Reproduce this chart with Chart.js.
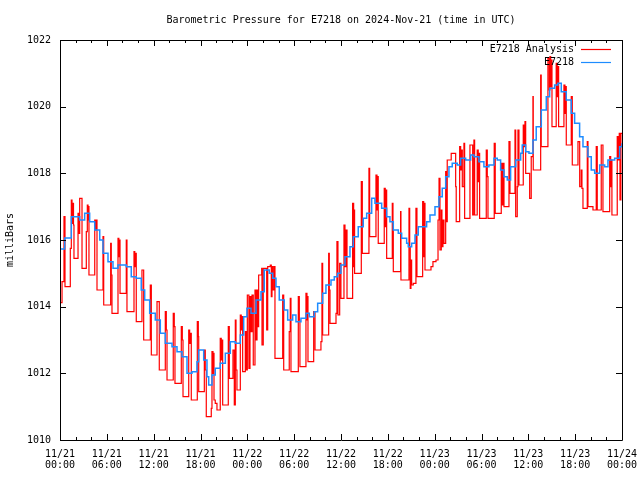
<!DOCTYPE html>
<html>
<head>
<meta charset="utf-8">
<title>Barometric Pressure for E7218</title>
<script src="https://cdn.jsdelivr.net/npm/chart.js@4/dist/chart.umd.min.js"></script>
<style>
  html, body { margin: 0; padding: 0; background: #fff; }
  #wrap { width: 640px; height: 480px; }
</style>
</head>
<body>
<div id="wrap"><canvas id="pressureChart" width="640" height="480"></canvas></div>
<script>
// Hours since 2024-11-21 00:00 UTC, paired with pressure in milliBars
const analysisPoints = [
    [0, 1014.12], [0.26, 1014.75], [0.51, 1016.7], [0.64, 1014.6], [1.32, 1015.75], [1.45, 1017.2],
    [1.54, 1016.5], [1.63, 1017.1], [1.73, 1016.45], [1.79, 1015.45], [2.31, 1016.8], [2.43, 1016.2],
    [2.52, 1017.25], [2.82, 1015.15], [3.37, 1016.25], [3.50, 1017.05], [3.59, 1016.6], [3.68, 1017.0],
    [3.71, 1014.95], [4.45, 1016.6], [4.58, 1016.3], [4.65, 1016.6], [4.74, 1014.5], [5.51, 1016.1],
    [5.60, 1014.05], [6.49, 1015.9], [6.57, 1014.95], [6.66, 1013.8], [7.43, 1016.05], [7.54, 1015.5],
    [7.62, 1016.0], [7.69, 1014.4], [8.49, 1016.0], [8.58, 1013.85], [9.48, 1015.65], [9.58, 1015.2],
    [9.67, 1015.6], [9.77, 1013.55], [10.50, 1015.1], [10.72, 1013.0], [11.57, 1014.65], [11.70, 1012.55],
    [12.43, 1014.15], [12.72, 1012.1], [13.49, 1013.85], [13.62, 1013.3], [13.71, 1011.8], [14.51, 1013.8],
    [14.64, 1013.4], [14.73, 1011.7], [15.54, 1013.4], [15.67, 1013.0], [15.76, 1011.3], [16.49, 1013.3],
    [16.61, 1012.9], [16.74, 1013.2], [16.82, 1011.2], [17.59, 1013.55], [17.72, 1013.1], [17.77, 1011.45],
    [18.49, 1012.7], [18.61, 1012.1], [18.74, 1010.7], [19.38, 1010.95], [19.47, 1012.65], [19.60, 1012.0],
    [19.69, 1012.6], [19.73, 1011.2], [19.89, 1011.1], [20.11, 1010.9], [20.53, 1013.05], [20.66, 1012.4],
    [20.75, 1013.0], [20.84, 1011.05], [21.56, 1013.4], [21.69, 1011.85], [22.16, 1012.7], [22.33, 1011.05],
    [22.46, 1013.6], [22.55, 1012.1], [22.67, 1011.5], [23.10, 1013.75], [23.22, 1013.3], [23.31, 1013.7],
    [23.40, 1012.05], [23.74, 1013.25], [23.86, 1012.1], [24.0, 1014.35], [24.2, 1012.15], [24.34, 1014.3],
    [24.47, 1013.25], [24.6, 1014.35], [24.76, 1012.25], [24.98, 1014.5], [25.11, 1013.0], [25.24, 1014.5],
    [25.33, 1013.4], [25.45, 1014.95], [25.84, 1015.15], [25.88, 1012.85], [26.04, 1015.15], [26.48, 1013.3],
    [26.61, 1015.2], [26.94, 1015.25], [27.07, 1014.3], [27.16, 1015.2], [27.29, 1014.5], [27.45, 1015.2],
    [27.54, 1012.45], [28.53, 1014.35], [28.66, 1012.1], [29.37, 1013.25], [29.50, 1014.25], [29.59, 1012.05],
    [30.53, 1014.3], [30.66, 1013.6], [30.74, 1012.2], [31.51, 1014.4], [31.64, 1013.6], [31.73, 1014.3],
    [31.77, 1012.35], [32.50, 1013.85], [32.67, 1012.7], [33.43, 1012.95], [33.56, 1015.3], [33.65, 1013.15],
    [34.42, 1015.6], [34.50, 1014.5], [34.59, 1013.5], [35.36, 1013.8], [35.48, 1015.95], [35.61, 1013.75],
    [35.83, 1015.3], [35.99, 1014.25], [36.38, 1016.45], [36.51, 1015.2], [36.64, 1016.3], [36.77, 1014.25],
    [37.49, 1017.1], [37.62, 1015.2], [37.70, 1016.9], [37.74, 1015.0], [38.60, 1017.75], [38.73, 1015.6],
    [39.58, 1018.15], [39.67, 1016.1], [40.48, 1017.95], [40.61, 1016.9], [40.70, 1017.9], [40.77, 1015.9],
    [41.54, 1017.55], [41.67, 1016.4], [41.76, 1017.5], [41.85, 1015.45], [42.57, 1017.1], [42.66, 1016.3],
    [42.70, 1015.05], [43.64, 1016.85], [43.68, 1014.8], [44.71, 1016.95], [44.80, 1015.8], [44.87, 1014.55],
    [44.96, 1015.4], [45.05, 1014.65], [45.26, 1014.7], [45.60, 1016.95], [45.73, 1014.9], [46.46, 1017.15],
    [46.59, 1015.5], [46.67, 1017.1], [46.76, 1015.1], [47.53, 1015.2], [47.78, 1015.35], [48.17, 1015.4],
    [48.43, 1016.6], [48.56, 1017.85], [48.68, 1015.7], [48.85, 1016.9], [48.93, 1015.8], [49.06, 1016.6],
    [49.19, 1015.9], [49.41, 1018.05], [49.49, 1016.55], [49.61, 1018.4], [50.12, 1018.6], [50.69, 1017.6],
    [50.76, 1016.55], [51.20, 1018.8], [51.33, 1018.1], [51.46, 1018.7], [51.54, 1017.6], [51.75, 1018.9],
    [51.84, 1016.65], [52.52, 1018.85], [52.87, 1016.75], [53.03, 1019.0], [53.12, 1016.75], [53.45, 1018.7],
    [53.58, 1017.75], [53.67, 1018.6], [53.76, 1016.65], [54.61, 1018.7], [54.74, 1017.9], [54.83, 1016.65],
    [55.63, 1018.9], [55.76, 1016.8], [56.53, 1018.3], [56.66, 1017.05], [56.79, 1018.3], [56.88, 1017.0],
    [57.52, 1018.95], [57.65, 1017.4], [58.29, 1019.3], [58.38, 1016.7], [58.58, 1017.6], [58.67, 1019.3],
    [58.80, 1017.65], [59.35, 1019.45], [59.48, 1018.8], [59.57, 1019.55], [59.66, 1018.0], [60.17, 1017.25],
    [60.37, 1018.5], [60.59, 1020.3], [60.63, 1018.1], [61.58, 1020.95], [61.65, 1018.8], [62.51, 1021.45],
    [62.68, 1020.5], [62.77, 1021.5], [62.86, 1020.6], [62.94, 1021.4], [63.03, 1019.4], [63.57, 1021.3],
    [63.70, 1020.3], [63.79, 1021.2], [63.88, 1019.4], [64.56, 1020.65], [64.69, 1019.8], [64.78, 1020.6],
    [64.86, 1018.85], [65.50, 1020.3], [65.63, 1018.25], [66.36, 1018.95], [66.58, 1017.6], [66.78, 1018.1],
    [66.87, 1017.55], [67.00, 1016.95], [67.55, 1018.95], [67.64, 1017.0], [68.28, 1016.9], [68.70, 1018.8],
    [68.83, 1016.9], [69.34, 1018.85], [69.56, 1016.85], [70.42, 1018.5], [70.55, 1017.6], [70.63, 1018.4],
    [70.71, 1016.75], [71.39, 1019.1], [71.52, 1018.4], [71.65, 1019.2], [71.74, 1017.2], [71.86, 1019.2],
    [72.0, 1019.2]
];

const stationPoints = [
    [0, 1015.73], [0.60, 1016.06], [1.45, 1016.7], [2.52, 1016.6], [3.16, 1016.8], [3.80, 1016.55],
    [4.45, 1016.3], [5.09, 1016.0], [5.51, 1015.6], [6.15, 1015.35], [6.79, 1015.15], [7.43, 1015.25],
    [8.49, 1015.2], [9.13, 1014.9], [9.77, 1014.85], [10.41, 1014.5], [10.85, 1014.2], [11.49, 1013.8],
    [12.21, 1013.6], [12.85, 1013.2], [13.49, 1012.9], [14.35, 1012.8], [14.99, 1012.65], [15.63, 1012.5],
    [16.27, 1012.0], [16.91, 1012.05], [17.55, 1012.35], [17.77, 1012.7], [18.41, 1012.4], [18.83, 1011.9],
    [19.05, 1011.65], [19.47, 1011.95], [19.89, 1012.15], [20.53, 1012.3], [21.18, 1012.6], [21.82, 1012.95],
    [22.46, 1012.9], [23.10, 1013.15], [23.53, 1013.7], [23.95, 1013.95], [24.47, 1013.8], [25.11, 1014.2],
    [25.75, 1014.45], [26.17, 1015.1], [26.81, 1015.0], [27.25, 1014.85], [27.67, 1014.6], [28.09, 1014.2],
    [28.73, 1013.9], [29.17, 1013.6], [29.81, 1013.75], [30.23, 1013.55], [30.87, 1013.65], [31.51, 1013.8],
    [31.94, 1013.7], [32.58, 1013.85], [33.01, 1014.1], [33.65, 1014.4], [34.07, 1014.65], [34.72, 1014.8],
    [35.14, 1014.9], [35.57, 1015.0], [35.99, 1015.25], [36.51, 1015.5], [37.15, 1015.8], [37.57, 1016.1],
    [38.21, 1016.4], [38.85, 1016.65], [39.29, 1016.8], [39.93, 1017.25], [40.35, 1017.1], [41.21, 1016.95],
    [41.85, 1016.7], [42.27, 1016.55], [42.70, 1016.3], [43.34, 1016.2], [43.77, 1016.05], [44.41, 1015.9],
    [44.62, 1015.8], [45.05, 1015.9], [45.48, 1016.15], [45.90, 1016.4], [46.97, 1016.55], [47.40, 1016.75],
    [48.04, 1017.0], [48.55, 1017.3], [48.97, 1017.55], [49.41, 1017.9], [49.83, 1018.2], [50.25, 1018.3],
    [50.89, 1018.25], [51.33, 1018.45], [51.97, 1018.4], [52.61, 1018.55], [53.03, 1018.5], [53.67, 1018.35],
    [54.31, 1018.2], [54.95, 1018.25], [55.60, 1018.45], [56.02, 1018.4], [56.45, 1018.1], [56.88, 1017.9],
    [57.30, 1017.8], [57.73, 1018.2], [58.38, 1018.4], [59.02, 1018.6], [59.22, 1018.85], [59.66, 1018.65],
    [60.08, 1018.6], [60.59, 1019.0], [61.01, 1019.4], [61.66, 1019.9], [62.30, 1020.3], [62.73, 1020.55],
    [63.37, 1020.65], [63.79, 1020.7], [64.22, 1020.45], [64.86, 1020.2], [65.50, 1019.8], [65.93, 1019.5],
    [66.57, 1019.1], [67.00, 1018.8], [67.64, 1018.5], [68.06, 1018.1], [68.50, 1018.0], [69.14, 1018.25],
    [69.78, 1018.2], [70.20, 1018.4], [71.06, 1018.45], [71.70, 1018.8], [72.0, 1018.9]
];

// one label per 6 hour tick
const xTickLabels = [
    ['11/21', '00:00'], ['11/21', '06:00'], ['11/21', '12:00'], ['11/21', '18:00'],
    ['11/22', '00:00'], ['11/22', '06:00'], ['11/22', '12:00'], ['11/22', '18:00'],
    ['11/23', '00:00'], ['11/23', '06:00'], ['11/23', '12:00'], ['11/23', '18:00'],
    ['11/24', '00:00']
];
const yTickValues = [1010, 1012, 1014, 1016, 1018, 1020, 1022];
const seriesNames = ['E7218 Analysis', 'E7218'];
const seriesColors = ['#ff0000', '#1e8cff'];

const MONO = "'DejaVu Sans Mono', 'Liberation Mono', monospace";

// gnuplot style frame: box, inward ticks, title and legend
const gnuFrame = {
    id: 'gnuFrame',
    afterDraw(chart) {
        const ctx = chart.ctx;
        const area = chart.chartArea;
        const xs = chart.scales.x;
        const ys = chart.scales.y;
        ctx.save();
        ctx.strokeStyle = '#000';
        ctx.lineWidth = 1;
        ctx.beginPath();
        ctx.rect(Math.round(area.left) + 0.5, Math.round(area.top) + 0.5,
            Math.round(area.right - area.left), Math.round(area.bottom - area.top));
        ctx.stroke();

        ctx.beginPath();
        for (let h = 0; h <= 72; h += 2) {
            const px = Math.round(xs.getPixelForValue(h)) + 0.5;
            const len = h % 6 === 0 ? 6 : 3;
            ctx.moveTo(px, area.bottom);
            ctx.lineTo(px, area.bottom - len);
            ctx.moveTo(px, area.top);
            ctx.lineTo(px, area.top + len);
        }
        yTickValues.forEach(v => {
            const py = Math.round(ys.getPixelForValue(v)) + 0.5;
            ctx.moveTo(area.left, py);
            ctx.lineTo(area.left + 6, py);
            ctx.moveTo(area.right, py);
            ctx.lineTo(area.right - 6, py);
        });
        ctx.stroke();

        ctx.fillStyle = '#000';
        ctx.font = '10px ' + MONO;
        ctx.textBaseline = 'middle';
        ctx.textAlign = 'center';
        ctx.fillText('Barometric Pressure for E7218 on 2024-Nov-21 (time in UTC)', (area.left + area.right) / 2, 20);

        // legend, text right aligned before the line sample
        ctx.textAlign = 'right';
        seriesNames.forEach((name, i) => {
            const y = 49 + i * 13;
            ctx.fillStyle = '#000';
            ctx.fillText(name, area.right - 48, y);
            ctx.strokeStyle = seriesColors[i];
            ctx.lineWidth = 1.2;
            ctx.beginPath();
            ctx.moveTo(area.right - 41, y + 0.5);
            ctx.lineTo(area.right - 11, y + 0.5);
            ctx.stroke();
        });
        ctx.restore();
    }
};

const toXY = pts => pts.map(p => ({ x: p[0], y: p[1] }));

new Chart(document.getElementById('pressureChart'), {
    type: 'line',
    data: {
        datasets: [
            {
                label: seriesNames[0],
                data: toXY(analysisPoints),
                borderColor: seriesColors[0],
                borderWidth: 1.2,
                stepped: true,
                pointRadius: 0,
                order: 1
            },
            {
                label: seriesNames[1],
                data: toXY(stationPoints),
                borderColor: seriesColors[1],
                borderWidth: 1.5,
                stepped: true,
                pointRadius: 0,
                order: 0
            }
        ]
    },
    options: {
        responsive: false,
        animation: false,
        devicePixelRatio: 1,
        layout: { padding: { top: 40, right: 18, left: 0, bottom: 0 }, autoPadding: false },
        plugins: {
            legend: { display: false },
            tooltip: { enabled: false }
        },
        scales: {
            x: {
                type: 'linear',
                min: 0,
                max: 72,
                grid: { display: false, drawTicks: false },
                border: { display: false },
                afterFit: scale => {
                    scale.height = 40;
                    scale.paddingLeft = 0;
                    scale.paddingRight = 0;
                },
                ticks: {
                    stepSize: 6,
                    autoSkip: false,
                    maxRotation: 0,
                    padding: 9,
                    color: '#000',
                    font: { family: MONO, size: 10, lineHeight: 1.1 },
                    callback: v => xTickLabels[Math.round(v / 6)]
                }
            },
            y: {
                min: 1010,
                max: 1022,
                grid: { display: false, drawTicks: false },
                border: { display: false },
                afterFit: scale => {
                    scale.width = 60;
                    scale.paddingTop = 0;
                    scale.paddingBottom = 0;
                },
                title: {
                    display: true,
                    text: 'milliBars',
                    color: '#000',
                    font: { family: MONO, size: 10 }
                },
                ticks: {
                    stepSize: 2,
                    padding: 9,
                    color: '#000',
                    font: { family: MONO, size: 10 },
                    callback: v => String(v)
                }
            }
        }
    },
    plugins: [gnuFrame]
});
</script>
</body>
</html>
